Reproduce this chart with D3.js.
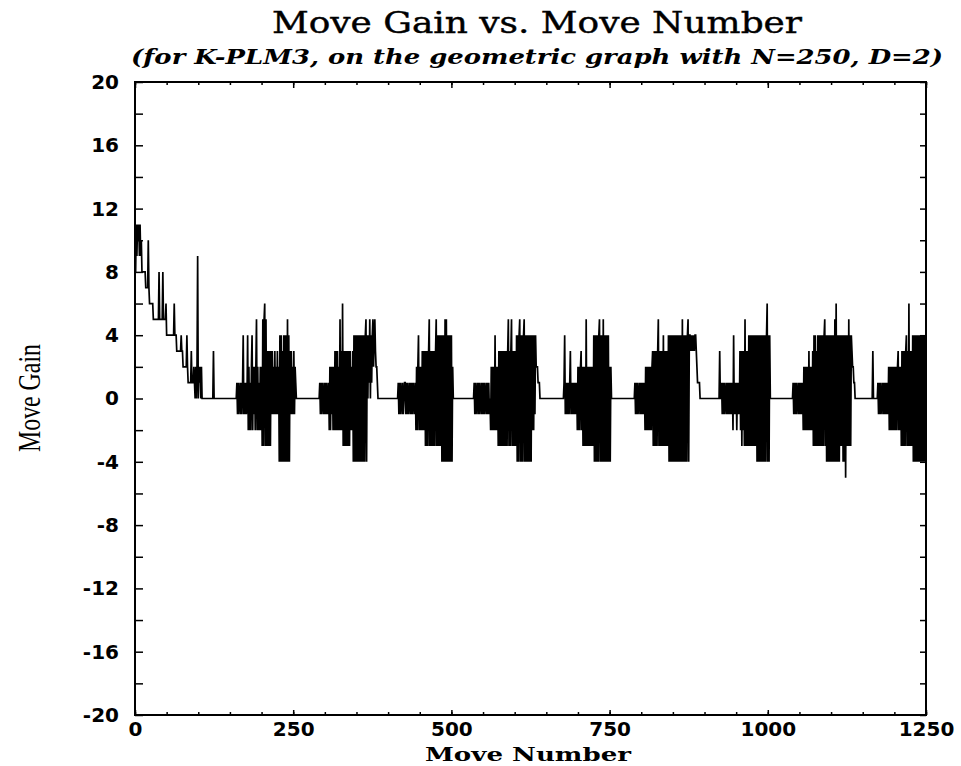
<!DOCTYPE html>
<html>
<head>
<meta charset="utf-8">
<script src="https://cdn.jsdelivr.net/npm/d3@7"></script>
<style>
  body { margin: 0; background: #fff; }
  svg { display: block; }
  .tick-label { font-family: "DejaVu Sans", "Liberation Sans", sans-serif; font-weight: bold; font-size: 20px; fill: #000; }
</style>
</head>
<body>
<div id="chart"></div>
<script>
// ---- data (move gain for each move number) ----
// moves 1..107, the opening descent
var opening = [8, 11,9,11,10,11,9,11,9,10, 8,8,8,8,8,8, 7,7,7,7, 10, 7,
  6,6,6,6,6,6, 5,5,5,5,5,5,5,5,5, 8, 5,5,5,5,5, 8, 5,5,5,5,6,
  4,4,4,4,4,4,4,4,4,4,4,4, 6, 4,4,4, 3,3,3,3,3,3,3,4, 3,3,
  2,2,2,2,2,2,4, 2, 1,1,1,1,1,3, 1,1,1,2,1,
  0,2,0,2,9,0,2,1,2,0, 2,0,0];

// the nine bursts, each with the move number it starts at
var burstStart = [161, 292, 416, 536, 678, 790, 927, 1040, 1174];

var burst1 = [1,-1,1,-1,0,1,-1,1,-1,1,4,-1,1,-1,1,-1,0,
  4,-2,2,-2,1,-2,2,4,-2,2,-1,2,-2,2,5,-2,2,-2,1,-2,2,-2,2,
  -3,5,-3,5,6,-3,5,-3,3,-3,3,-3,3,-3,3,
  -1,3,-1,2,-1,3,-1,2,-1,3,-1,2,
  -4,4,-4,4,-4,3,-4,4,-4,4,-4,4,-4,5,-4,4,-4,
  3,-1,3,-1,2,-1,3,-1,2,1,0];

var burst2 = [1,-1,1,-1,1,0,-1,1,-1,1,-1,1,-1,0,1,
  -2,2,-2,2,-1,2,-2,2,-2,
  3,-2,3,-2,3,-2,2,-2,5,-2,3,-2,
  6,-3,3,-3,3,-3,3,-3,3,-3,3,-3,
  3,-2,2,-2,3,
  -4,4,-4,4,-4,4,-4,4,-4,4,-4,4,-4,4,-4,4,-4,4,-4,4,5,-4,4,
  0,4,1,5,0,4,1,4,5,2,4,5,
  3,2,2,1,0];

var burst3 = [1,-1,1,-1,1,0,-1,1,-1,0,1,1,-1,1,-1,1,-1,0,1,-1,1,-1,1,-1,1,0,-1,1,
  -2,2,-2,2,4,-2,2,-2,2,-2,3,-2,3,-2,
  3,-3,3,-3,3,-3,3,5,-3,3,-3,3,-3,3,-3,3,-3,3,
  5,-3,4,-3,4,-3,4,-3,
  4,-4,4,-4,4,-4,5,-4,5,-4,4,-4,4,-4,4,-4,4,-4,
  2,0];

var burst4 = [1,-1,1,-1,0,1,-1,1,-1,1,0,-1,1,-1,1,-1,1,-1,0,1,-1,1,-1,1,-1,0,
  -2,2,-2,2,-2,2,-2,4,-2,2,-2,2,
  -3,3,-3,3,-3,3,-3,3,
  -3,3,-3,3,-3,3,-3,3,5,-3,3,-3,3,5,-3,3,-3,3,-3,3,-3,
  4,-4,4,-4,4,5,-4,4,-4,4,-4,4,5,-4,4,-4,4,-4,4,-4,4,-4,4,-4,4,
  -2,4,-2,4,-1,4,2,
  2,2,1,1,1,0,0];

var burst5 = [1,4,-1,1,-1,1,-1,1,-1,1,3,-1,1,-1,1,-1,1,-1,1,-1,1,
  -2,2,-2,2,-2,2,3,-2,2,-3,2,-3,2,-3,5,-3,2,-3,2,-3,2,-3,2,-3,2,-3,
  4,-4,4,-4,4,-4,4,-4,4,5,-4,4,-4,4,-4,5,-4,4,-4,4,-4,4,-4,4,
  -4,2,-4,2,0,0];

var burst6 = [1,-1,1,-1,1,-1,0,1,-1,1,-1,1,-1,1,-1,1,
  -2,2,-2,2,-2,2,-2,2,-2,2,-2,2,3,
  -3,3,-3,3,-3,3,-3,3,5,-3,3,-3,3,-3,3,-3,4,-3,3,-3,3,-3,3,-3,
  4,-4,4,-4,4,-4,4,-4,4,-4,4,-4,4,-4,4,-4,4,-4,4,-4,4,-4,5,-4,4,-4,4,-4,4,-4,4,5,-4,4,
  4,3,4,3,4,3,4,3,4,4,
  3,2,1,1,1,1,0,0,0];

var burst7 = [1,-1,1,-1,1,-1,0,1,-1,1,-1,1,-1,1,-1,1,-1,1,-2,4,-1,1,-1,1,-2,1,-1,1,-1,
  3,-2,3,-3,3,-2,3,-3,5,-3,3,-3,3,
  -3,4,-3,4,-3,4,-3,4,-3,4,-3,4,-3,
  4,-4,4,-4,4,-4,4,-4,4,-4,4,-4,4,-4,4,-4,4,6,-4,4,-4,4,
  0];

var burst8 = [1,-1,1,-1,1,-1,1,0,-1,1,-1,1,-1,1,-1,1,
  -2,2,-2,2,-2,2,-2,2,-2,3,-2,2,-2,2,-2,3,
  -3,4,-3,4,-3,3,-3,4,-3,4,-3,4,-3,4,-3,4,-3,4,5,-3,4,
  -4,4,-4,4,-4,4,-4,4,-4,4,-4,4,-4,5,-4,6,-4,4,-4,4,-4,
  4,-3,4,-3,4,-4,4,-4,4,-5,4,-3,4,-3,5,-3,4,-3,
  4,3,2,2,1,1,0,0];

var burst9 = [1,-1,1,-1,1,-1,0,1,-1,1,-1,1,-1,1,-1,1,-1,
  2,-2,2,-2,2,-2,2,-2,2,-2,2,-2,2,-2,2,3,-2,2,-2,2,
  -3,3,-3,3,-3,3,-3,3,4,-3,3,-3,6,-3,3,-3,3,-3,
  4,-4,4,-4,4,-4,4,-4,4,-4,4,-4,4,-4,4,-4,4,-4,4,-4,4,-4];

// lone spikes on the flat stretches [move, gain]
var flatSpikes = [[124, 3], [924, 3], [1166, 3]];

var xTicks = [0, 250, 500, 750, 1000, 1250];
var yTicks = [-20, -16, -12, -8, -4, 0, 4, 8, 12, 16, 20];

// ---- assemble the series: gain is 0 on the flat stretches ----
var nMoves = 1250;
var gains = new Array(nMoves + 1).fill(0);
opening.forEach(function(v, i) { gains[1 + i] = v; });
[burst1, burst2, burst3, burst4, burst5, burst6, burst7, burst8, burst9].forEach(function(b, k) {
  b.forEach(function(v, i) { gains[burstStart[k] + i] = v; });
});
flatSpikes.forEach(function(s) { gains[s[0]] = s[1]; });
var series = [];
for (var m = 1; m <= nMoves; m++) series.push({move: m, gain: gains[m]});

// ---- chart ----
var W = 961, H = 766;
var margin = {top: 82, right: 35, bottom: 51, left: 135};
var w = W - margin.left - margin.right,
    h = H - margin.top - margin.bottom;

var svg = d3.select("#chart").append("svg")
  .attr("width", W).attr("height", H);

var g = svg.append("g")
  .attr("transform", "translate(" + margin.left + "," + margin.top + ")");

var xScale = d3.scaleLinear().domain([0, 1250]).range([0, w]);
var yScale = d3.scaleLinear().domain([-20, 20]).range([h, 0]);

// data line
var line = d3.line()
  .x(function(d) { return xScale(d.move); })
  .y(function(d) { return yScale(d.gain); });

g.append("path")
  .datum(series)
  .attr("fill", "none")
  .attr("stroke", "#000")
  .attr("stroke-width", 1.7)
  .attr("d", line);

// inward ticks on all four sides
var minorX = d3.range(0, 1251, 50);
var minorY = d3.range(-20, 21, 2);
var plain = function(d) { return String(d); };

g.append("g")
  .attr("transform", "translate(0," + h + ")")
  .call(d3.axisBottom(xScale).tickValues(minorX).tickSize(-3).tickFormat(""))
  .call(function(a) { a.select(".domain").remove(); });
g.append("g")
  .attr("transform", "translate(0," + h + ")")
  .call(d3.axisBottom(xScale).tickValues(xTicks).tickSize(-5).tickPadding(7).tickFormat(plain))
  .call(function(a) { a.select(".domain").remove(); a.selectAll("text").attr("class", "tick-label"); });

g.append("g")
  .call(d3.axisTop(xScale).tickValues(minorX).tickSize(-3).tickFormat(""))
  .call(function(a) { a.select(".domain").remove(); });
g.append("g")
  .call(d3.axisTop(xScale).tickValues(xTicks).tickSize(-6).tickFormat(""))
  .call(function(a) { a.select(".domain").remove(); });

g.append("g")
  .call(d3.axisLeft(yScale).tickValues(minorY).tickSize(-8).tickFormat(""))
  .call(function(a) { a.select(".domain").remove(); });
g.append("g")
  .call(d3.axisLeft(yScale).tickValues(yTicks).tickSize(0).tickPadding(16).tickFormat(plain))
  .call(function(a) { a.select(".domain").remove(); a.selectAll("text").attr("class", "tick-label"); });

g.append("g")
  .attr("transform", "translate(" + w + ",0)")
  .call(d3.axisRight(yScale).tickValues(minorY).tickSize(-6).tickFormat(""))
  .call(function(a) { a.select(".domain").remove(); });

g.selectAll(".tick line").attr("stroke-width", 1.5);

// frame
g.append("rect")
  .attr("width", w).attr("height", h)
  .attr("fill", "none").attr("stroke", "#000").attr("stroke-width", 2);

// titles
svg.append("text")
  .attr("x", 537).attr("y", 33)
  .attr("text-anchor", "middle")
  .attr("textLength", 530).attr("lengthAdjust", "spacingAndGlyphs")
  .style("font-family", "'DejaVu Serif', 'Liberation Serif', serif")
  .style("font-size", "29px")
  .style("stroke", "#000").style("stroke-width", 0.4)
  .text("Move Gain vs. Move Number");

svg.append("text")
  .attr("x", 537).attr("y", 64)
  .attr("text-anchor", "middle")
  .attr("textLength", 812).attr("lengthAdjust", "spacingAndGlyphs")
  .style("font-family", "'DejaVu Serif', 'Liberation Serif', serif")
  .style("font-size", "20px").style("font-style", "italic").style("font-weight", "bold")
  .text("(for K-PLM3, on the geometric graph with N=250, D=2)");

svg.append("text")
  .attr("x", 528).attr("y", 761)
  .attr("text-anchor", "middle")
  .attr("textLength", 206).attr("lengthAdjust", "spacingAndGlyphs")
  .style("font-family", "'DejaVu Serif', 'Liberation Serif', serif")
  .style("font-size", "19px").style("font-weight", "bold")
  .text("Move Number");

svg.append("text")
  .attr("transform", "translate(40,398) rotate(-90)")
  .attr("text-anchor", "middle")
  .attr("textLength", 108).attr("lengthAdjust", "spacingAndGlyphs")
  .style("font-family", "'Liberation Serif', 'Times New Roman', serif")
  .style("font-size", "31px")
  .text("Move Gain");
</script>
</body>
</html>
